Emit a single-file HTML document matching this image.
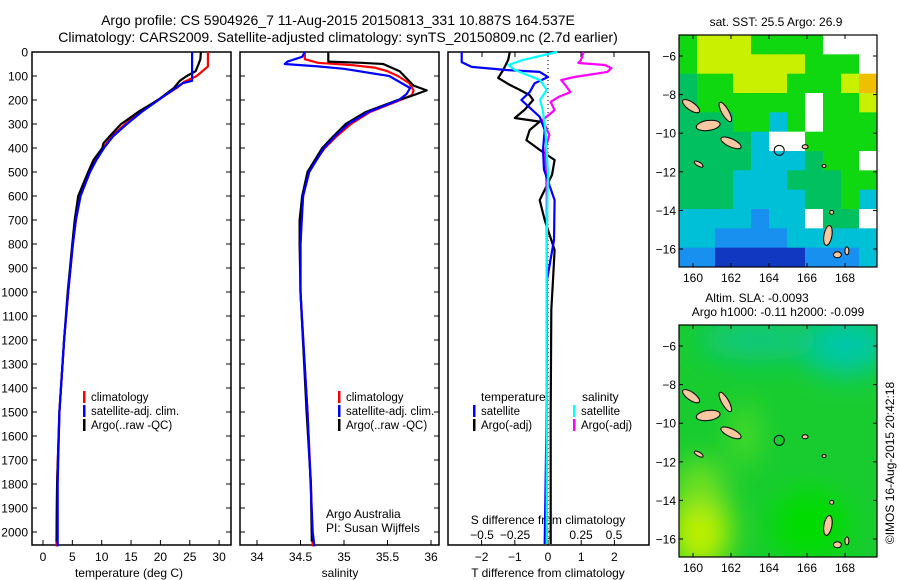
<!DOCTYPE html>
<html><head><meta charset="utf-8">
<style>
body{margin:0;background:#fff;}
svg{display:block;font-family:"Liberation Sans",sans-serif;}
text{fill:#000;}
</style></head>
<body>
<svg id="fig" width="900" height="580" viewBox="0 0 900 580" xmlns="http://www.w3.org/2000/svg">
<text x="338" y="25" font-size="14" text-anchor="middle">Argo profile: CS 5904926_7 11-Aug-2015 20150813_331 10.887S 164.537E</text>
<text x="338" y="42" font-size="14" text-anchor="middle">Climatology: CARS2009. Satellite-adjusted climatology: synTS_20150809.nc (2.7d earlier)</text>
<g id="p1"></g>
<g id="p2"></g>
<g id="p3"></g>
<g id="m1"></g>
<g id="m2"></g>
<text transform="translate(894,463) rotate(-90)" font-size="12" text-anchor="middle">©IMOS 16-Aug-2015 20:42:18</text>
</svg>
<script>
// ---- data ----
const tDepth=[0,60,100,125,150,200,250,300,350,400,450,500,600,700,800,1000,1200,1500,1800,2060];
const tClim=[28.1,28.1,26.2,24,22.8,19.5,16.5,14,11.8,10.2,9,8,6.3,5.6,5.1,4.3,3.6,2.8,2.4,2.3];
const tSatDepth=[0,120,130,150,200,250,300,350,400,450,500,600,700,800,1000,1200,1500,1800,2000,2060];
const tSat=[25.4,25.4,23.8,22.6,19.7,16.8,14.3,12,10.4,9.1,8,6.4,5.6,5.1,4.3,3.6,2.8,2.5,2.5,2.5];
const tArgoDepth=[0,30,50,80,100,120,150,200,250,280,300,350,380,400,450,500,600,700,800,1000,1200,1500,1800,2040];
const tArgo=[26.9,26.8,26.5,26,24.5,23.3,22.3,19.6,16.2,14.5,13.3,11.4,10.3,10.1,8.6,7.7,6,5.4,5,4.2,3.6,2.8,2.4,2.3];
const sDepth=[0,30,45,55,65,80,100,130,160,180,200,250,300,350,400,450,500,600,700,800,1000,1200,1500,1800,2060];
const sClim=[34.55,34.55,34.7,35.1,35.35,35.5,35.62,35.75,35.8,35.78,35.65,35.3,35.08,34.92,34.78,34.68,34.6,34.53,34.51,34.5,34.5,34.53,34.58,34.62,34.64];
const sSatDepth=[0,20,40,50,60,70,100,150,175,200,250,300,350,400,500,600,800,1000,1500,2000,2060];
const sSat=[34.55,34.52,34.35,34.32,34.7,35.0,35.52,35.76,35.72,35.63,35.28,35.05,34.9,34.77,34.6,34.53,34.5,34.5,34.58,34.64,34.66];
const sArgoDepth=[0,40,45,50,80,110,140,160,185,200,250,300,350,400,500,600,700,800,1000,1500,1800,2040];
const sArgo=[34.82,34.82,35.2,35.45,35.64,35.72,35.8,35.95,35.76,35.62,35.25,35.02,34.88,34.75,34.58,34.52,34.49,34.49,34.5,34.57,34.62,34.63];
const dDepthA=[0,42,62,75,83,104,130,167,200,270,325,408,490,617,783,950,1200,1600,2050];
const dTsat=[-2.6,-2.6,-2.3,-1.25,-0.25,0,-0.4,-0.55,-0.8,-0.25,-0.1,-0.15,-0.12,0.2,0.18,-0.03,-0.03,-0.05,-0.1];
const dDepthB=[0,33,75,108,137,158,180,200,240,275,290,325,367,408,450,512,617,700,825,950,1075,1500,2050];
const dTargo=[-1.15,-1.2,-1.35,-1.5,-1.15,-0.85,-0.55,-0.45,-0.7,-1.0,-0.25,-0.55,-0.65,-0.25,0.2,0.12,-0.25,-0.1,0.2,0.15,0.1,0.08,0.08];
const dDepthC=[0,33,54,75,117,158,200,240,325,500,800,1200,2050];
const dScyan=[0.07,-0.19,-0.3,-0.25,-0.06,-0.01,-0.06,-0.04,-0.02,0,-0.01,-0.01,-0.01];
const dDepthD=[0,33,46,54,67,83,104,117,137,167,187,208,242,283,345,408,600,1000,2050];
const dSmag=[0.27,0.25,0.23,0.43,0.48,0.45,0.2,0.1,0.13,0.17,0.08,0.02,0.05,-0.04,0.01,-0.02,-0.01,-0.01,-0.01];
const depthTicks=[0,100,200,300,400,500,600,700,800,900,1000,1100,1200,1300,1400,1500,1600,1700,1800,1900,2000];
const tTicks=[0,5,10,15,20,25,30];
const sTicks=[34,34.5,35,35.5,36];
const dTTicks=[-2,-1,0,1,2];
const dSTicks=[-0.5,-0.25,0,0.25,0.5];
const sstGrid=["GYYYGGGGwww","GYYYYYYGGGw","gGGYYYGGGYO","gGGGGGGwGGY","gggGGcGwGGG","ggggcwwGGGG","ggggcccgGGw","gggcccgggGG","gggccccggGc","ccccbccwggw","ccbbbbccccc","bbdddddbbbc"];
const latTicks=[-6,-8,-10,-12,-14,-16];
const lonTicks=[160,162,164,166,168];
const argoLon=164.537, argoLat=-10.887;

const NS="http://www.w3.org/2000/svg";
function mk(tag,attrs,parent,txt){const e=document.createElementNS(NS,tag);for(const k in attrs)e.setAttribute(k,attrs[k]);if(txt!==undefined)e.textContent=txt;parent.appendChild(e);return e;}
const TOP=52, BOT=545;
const yD=d=>TOP+d*0.24;

function frame(g,x0,x1){
  const r=mk('rect',{x:x0,y:TOP,width:x1-x0,height:BOT-TOP,fill:'none',stroke:'#000','stroke-width':1.5},g);
  
  
  depthTicks.forEach(d=>{
    mk('line',{x1:x0,x2:x0+5,y1:yD(d),y2:yD(d),stroke:'#000'},g);
    mk('line',{x1:x1,x2:x1-5,y1:yD(d),y2:yD(d),stroke:'#000'},g);
  });
}
function line(g,xs,ds,fx,color,name,w){
  const pts=xs.map((v,i)=>fx(v).toFixed(1)+','+yD(ds[i]).toFixed(1)).join(' ');
  const p=mk('polyline',{points:pts,fill:'none',stroke:color,'stroke-width':w||2.2,'stroke-linejoin':'round'},g);
  
  
}
function legend(g,x,y,items){
  items.forEach((it,i)=>{
    mk('rect',{x:x,y:y+i*14-6,width:2.5,height:12,fill:it[0]},g);
    const t=mk('text',{x:x+8,y:y+i*14+4,'font-size':11.5},g,it[1]);
    
    
  });
}
// panel 1
const p1=document.getElementById('p1');
const xT=v=>43+v*5.87;
frame(p1,32,231);
depthTicks.forEach(d=>{const t=mk('text',{x:28,y:yD(d)+4.5,'font-size':12,'text-anchor':'end'},p1,String(d));});
tTicks.forEach(v=>{mk('line',{x1:xT(v),x2:xT(v),y1:BOT,y2:BOT-5,stroke:'#000'},p1);const t=mk('text',{x:xT(v),y:561,'font-size':12,'text-anchor':'middle'},p1,String(v));});
mk('text',{x:129,y:577,'font-size':12,'text-anchor':'middle',},p1,'temperature (deg C)');
line(p1,tClim,tDepth,xT,'#ff0000','temp-climatology-line');
line(p1,tArgo,tArgoDepth,xT,'#000000','temp-argo-line');
line(p1,tSat,tSatDepth,xT,'#0000ff','temp-satellite-line');
legend(p1,83,397,[['#ff0000','climatology'],['#0000ff','satellite-adj. clim.'],['#000','Argo(..raw -QC)']]);
// panel 2
const p2=document.getElementById('p2');
const xS=v=>257+(v-34)*87;
frame(p2,240,439);
sTicks.forEach(v=>{mk('line',{x1:xS(v),x2:xS(v),y1:BOT,y2:BOT-5,stroke:'#000'},p2);const t=mk('text',{x:xS(v),y:561,'font-size':12,'text-anchor':'middle'},p2,String(v));});
mk('text',{x:340,y:577,'font-size':12,'text-anchor':'middle',},p2,'salinity');
line(p2,sClim,sDepth,xS,'#ff0000','sal-climatology-line');
line(p2,sArgo,sArgoDepth,xS,'#000000','sal-argo-line');
line(p2,sSat,sSatDepth,xS,'#0000ff','sal-satellite-line');
legend(p2,338,397,[['#ff0000','climatology'],['#0000ff','satellite-adj. clim.'],['#000','Argo(..raw -QC)']]);
mk('text',{x:326,y:518,'font-size':12,},p2,'Argo Australia');
mk('text',{x:326,y:532,'font-size':12,},p2,'PI: Susan Wijffels');
// panel 3
const p3=document.getElementById('p3');
const xdT=v=>548+v*33.2;
const xdS=v=>548+v*132;
mk('rect',{x:448,y:TOP,width:201,height:BOT-TOP,fill:'none',stroke:'#000','stroke-width':1.5,},p3);
mk('line',{x1:548,x2:548,y1:TOP,y2:BOT,stroke:'#000','stroke-dasharray':'1,3',},p3);
dSTicks.forEach(v=>{mk('line',{x1:xdS(v),x2:xdS(v),y1:TOP,y2:TOP+5,stroke:'#000'},p3);const t=mk('text',{x:xdS(v),y:539,'font-size':12,'text-anchor':'middle'},p3,String(v).replace('-','\u2212'));});
dTTicks.forEach(v=>{mk('line',{x1:xdT(v),x2:xdT(v),y1:BOT,y2:BOT-5,stroke:'#000'},p3);const t=mk('text',{x:xdT(v),y:561,'font-size':12,'text-anchor':'middle'},p3,String(v).replace('-','\u2212'));});
mk('text',{x:548,y:524,'font-size':12,'text-anchor':'middle',},p3,'S difference from climatology');
mk('text',{x:548,y:577,'font-size':12,'text-anchor':'middle',},p3,'T difference from climatology');
line(p3,dTargo,dDepthB,xdT,'#000000','t-diff-argo-line');
line(p3,dSmag,dDepthD,xdS,'#ff00ff','s-diff-argo-line');
line(p3,dTsat,dDepthA,xdT,'#0000ff','t-diff-satellite-line');
line(p3,dScyan,dDepthC,xdS,'#00ffff','s-diff-satellite-line');
mk('text',{x:481,y:401,'font-size':12,},p3,'temperature');
mk('text',{x:582,y:401,'font-size':12,},p3,'salinity');
legend(p3,473,411,[['#0000ff','satellite'],['#000','Argo(-adj)']]);
legend(p3,573,411,[['#00ffff','satellite'],['#ff00ff','Argo(-adj)']]);
// maps
const MX0=679,MX1=877,MW=MX1-MX0,MH=232;
const lonX=l=>693+(l-160)*19;
const latY=l=>21+(-6-l)*19.3;
const cmap={Y:'#c8f000',O:'#f0c000',G:'#10d810',g:'#00c060',t:'#00c8a0',c:'#00c0d8',b:'#1890f0',d:'#1038c0',w:'#ffffff'};
const islands=[[159.9,-8.6,10,4,35],[160.8,-9.6,12,5,-8],[161.7,-8.9,11,3.5,60],[162,-10.5,11,4,25],[160.3,-11.6,5,2,30],[165.9,-10.7,3,2,0],[166.9,-11.7,2,1.5,0],[167.1,-15.3,4,10,10],[167.6,-16.3,4,3,0],[168.1,-16.1,2,4,0],[167.3,-14.1,2,2,0]];
function drawMap(g,oy,isSST){
  const clipId='clip'+oy;
  const cp=mk('clipPath',{id:clipId},g);mk('rect',{x:MX0,y:oy,width:MW,height:MH},cp);
  const body=mk('g',{'clip-path':'url(#'+clipId+')'},g);
  if(isSST){
    const cw=MW/sstGrid[0].length,ch=MH/sstGrid.length;
    sstGrid.forEach((row,r)=>row.split('').forEach((k,c)=>{
      const cell=mk('rect',{x:MX0+c*cw,y:oy+r*ch,width:cw+0.5,height:ch+0.5,fill:cmap[k]},body);
      
      
    }));
  } else {
    const defs=mk('defs',{},g);
    const f=mk('filter',{id:'blur',x:'-50%',y:'-50%',width:'200%',height:'200%'},defs);
    mk('feGaussianBlur',{stdDeviation:14},f);
    mk('rect',{x:MX0,y:oy,width:MW,height:MH,fill:'#18cc30'},body);
    const bl=mk('g',{filter:'url(#blur)'},body);
    mk('ellipse',{cx:845,cy:oy+20,rx:45,ry:30,fill:'#00c8a8'},bl);
    mk('ellipse',{cx:760,cy:oy+15,rx:60,ry:20,fill:'#10c880'},bl);
    mk('ellipse',{cx:700,cy:oy+205,rx:30,ry:40,fill:'#c0f000'},bl);
    mk('ellipse',{cx:700,cy:oy+160,rx:25,ry:25,fill:'#70e020'},bl);
    mk('ellipse',{cx:745,cy:oy+110,rx:10,ry:30,fill:'#60e020'},bl);
    mk('ellipse',{cx:810,cy:oy+200,rx:40,ry:35,fill:'#00dc00'},bl);
  }
  islands.forEach(s=>{
    const cx=lonX(s[0]),cy=oy+latY(s[1]);
    const e=mk('ellipse',{cx:cx,cy:cy,rx:s[2],ry:s[3],transform:`rotate(${s[4]} ${cx} ${cy})`,fill:'#f8c8a0',stroke:'#000','stroke-width':1},body);
    
    
  });
  const c=mk('circle',{cx:lonX(argoLon),cy:oy+latY(argoLat),r:5,fill:'none',stroke:'#000','stroke-width':1},g);
  
  
  mk('rect',{x:MX0,y:oy,width:MW,height:MH,fill:'none',stroke:'#000','stroke-width':1.2},g);
  latTicks.forEach(l=>{const y=oy+latY(l);mk('line',{x1:MX0,x2:MX0+4,y1:y,y2:y,stroke:'#000'},g);mk('line',{x1:MX1,x2:MX1-4,y1:y,y2:y,stroke:'#000'},g);const t=mk('text',{x:MX0-3,y:y+4.5,'font-size':12,'text-anchor':'end'},g,String(l).replace('-','\u2212'));});
  lonTicks.forEach(l=>{const x=lonX(l);mk('line',{x1:x,x2:x,y1:oy,y2:oy+4,stroke:'#000'},g);mk('line',{x1:x,x2:x,y1:oy+MH,y2:oy+MH-4,stroke:'#000'},g);const t=mk('text',{x:x,y:oy+MH+15,'font-size':12,'text-anchor':'middle'},g,String(l));});
}
const m1=document.getElementById('m1'),m2=document.getElementById('m2');
drawMap(m1,35,true);
drawMap(m2,325,false);
mk('text',{x:776,y:26,'font-size':12,'text-anchor':'middle',},m1,'sat. SST: 25.5 Argo: 26.9');
mk('text',{x:757,y:302,'font-size':12,'text-anchor':'middle',},m2,'Altim. SLA: -0.0093');
mk('text',{x:778,y:316,'font-size':12,'text-anchor':'middle',},m2,'Argo h1000: -0.11 h2000: -0.099');
</script>
</body></html>
